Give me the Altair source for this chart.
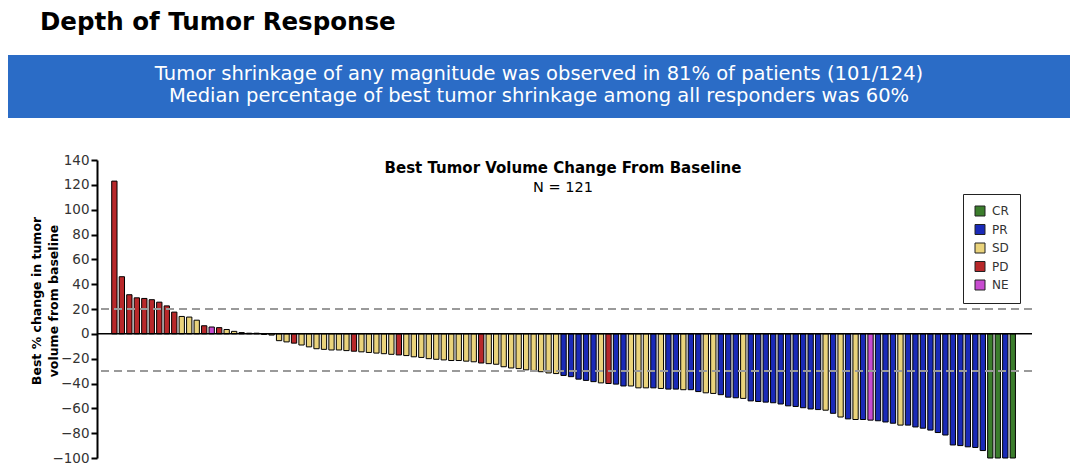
import altair as alt
import pandas as pd

# ---- data ----
values = [123, 46, 31.5, 29, 28.5, 27.5, 25.5, 22.5, 17.5, 14,
          13.5, 11, 6.5, 5.5, 5, 3.5, 2, 1, 0.5, 0.5,
          -0.5, -1, -5.5, -6.5, -7.5, -9, -10.5, -12, -12.5, -13,
          -13, -13.5, -14, -14.5, -15, -15.5, -16, -16.5, -17, -17.5,
          -18.5, -19, -20, -20.5, -21, -21.5, -21.5, -22, -22.5, -23.5,
          -24, -24.5, -26.5, -27.5, -28, -29, -29.5, -30.5, -31.5, -32,
          -33.5, -34.5, -36.5, -37.5, -38.5, -39.5, -40, -40.5, -42, -42,
          -43.5, -43.5, -43.5, -44, -44.5, -44.5, -45, -45, -46.5, -47.5,
          -48, -49, -51, -51.5, -52, -54, -54.5, -55, -55.5, -56.5,
          -58, -58.5, -59.5, -60.5, -61, -61.5, -64, -67, -68.5, -69,
          -69, -69.5, -70, -71, -72, -73.5, -73.5, -75, -76, -77.5,
          -79.5, -81.5, -89.5, -90, -91, -91.5, -94, -100, -100, -100,
          -100]
responses = ["PD"] * 9 + ["SD", "SD", "SD", "PD", "NE", "PD", "SD", "SD", "SD", "SD", "SD",
             "SD", "SD", "SD", "SD", "PD", "SD", "SD", "SD", "SD", "SD",
             "SD", "SD", "PD", "SD", "SD", "SD", "SD", "SD", "PD", "SD",
             "SD", "SD", "SD", "SD", "SD", "SD", "SD", "SD", "SD", "PD",
             "SD", "SD", "SD", "SD", "SD", "SD", "SD", "SD", "SD", "SD",
             "PR", "PR", "PR", "PR", "PR", "SD", "PD", "PR", "PR", "SD",
             "SD", "SD", "PR", "SD", "PR", "PR", "SD", "PR", "PR", "SD",
             "SD", "PR", "PR", "PR", "SD", "PR", "PR", "PR", "PR", "PR",
             "PR", "PR", "PR", "PR", "PR", "SD", "PR", "SD", "PR", "SD",
             "PR", "NE", "PR", "PR", "PR", "SD", "PR", "PR", "PR", "PR",
             "PR", "PR", "PR", "PR", "PR", "PR", "PR", "CR", "CR", "PR",
             "CR"]
categories = ["CR", "PR", "SD", "PD", "NE"]
cat_colors = ["#3b7d2c", "#1a2ab8", "#ead37b", "#b8282a", "#c84bd0"]
y_ticks = [-100, -80, -60, -40, -20, 0, 20, 40, 60, 80, 100, 120, 140]
thresholds = [20, -30]

page_title = ["Depth of Tumor Response"]
banner_line1 = ["Tumor shrinkage of any magnitude was observed in 81% of patients (101/124)"]
banner_line2 = ["Median percentage of best tumor shrinkage among all responders was 60%"]
chart_title = ["Best Tumor Volume Change From Baseline"]
chart_subtitle = ["N = 121"]
y_title = ["Best % change in tumor", "volume from baseline"]

df = pd.DataFrame({"i": list(range(1, len(values) + 1)), "v": values, "r": responses})

FONT = "DejaVu Sans"
yscale = alt.Scale(domain=[-100, 140], nice=False, zero=False)
xscale = alt.Scale(domain=[-0.652, 122.9], nice=False, zero=False)
yaxis = alt.Axis(values=y_ticks, title=None, grid=False, domainColor="black",
                 domainWidth=2, tickColor="black", tickWidth=2, tickSize=6,
                 labelFont=FONT, labelFontSize=13.5, labelColor="#333333",
                 labelPadding=2, labelOverlap=False)

bars = alt.Chart(df).mark_bar(size=5.3, stroke="black", strokeWidth=1).encode(
    x=alt.X("i:Q", scale=xscale, axis=None),
    y=alt.Y("v:Q", scale=yscale, axis=yaxis),
    color=alt.Color("r:N", scale=alt.Scale(domain=categories, range=cat_colors),
                    legend=alt.Legend(title=None, orient="none", legendX=866, legendY=34,
                                      strokeColor="#222222", padding=11, symbolType="square",
                                      symbolSize=100, symbolStrokeColor="#222222",
                                      symbolStrokeWidth=1, labelFont=FONT, labelFontSize=12,
                                      labelColor="#333333", labelOffset=6, rowPadding=4.5,
                                      fillColor="white")),
)

zero_line = alt.Chart(pd.DataFrame({"y": [0]})).mark_rule(color="black", strokeWidth=1.5).encode(
    y=alt.Y("y:Q", scale=yscale, axis=yaxis))

dashed = alt.Chart(pd.DataFrame({"y": thresholds})).mark_rule(
    color="#9a9a9a", strokeDash=[8, 5], strokeWidth=2).encode(
    y=alt.Y("y:Q", scale=yscale, axis=yaxis))

banner = alt.Chart(pd.DataFrame({"a": [0]})).mark_rect(color="#2b6cc6").encode(
    x=alt.value(-89), x2=alt.value(973), y=alt.value(-105), y2=alt.value(-42))

title_t = alt.Chart(pd.DataFrame({"t": page_title})).mark_text(
    font=FONT, fontSize=24.5, fontWeight="bold", color="black", align="left",
    baseline="alphabetic").encode(x=alt.value(-57), y=alt.value(-130), text="t:N")

banner_t1 = alt.Chart(pd.DataFrame({"t": banner_line1})).mark_text(
    font=FONT, fontSize=19.5, color="white", align="center", baseline="alphabetic").encode(
    x=alt.value(442), y=alt.value(-80.5), text="t:N")

banner_t2 = alt.Chart(pd.DataFrame({"t": banner_line2})).mark_text(
    font=FONT, fontSize=19.5, color="white", align="center", baseline="alphabetic").encode(
    x=alt.value(442), y=alt.value(-58.5), text="t:N")

ctitle_t = alt.Chart(pd.DataFrame({"t": chart_title})).mark_text(
    font=FONT, fontSize=15, fontWeight="bold", color="black", align="center",
    baseline="alphabetic").encode(x=alt.value(466), y=alt.value(12.5), text="t:N")

csub_t = alt.Chart(pd.DataFrame({"t": chart_subtitle})).mark_text(
    font=FONT, fontSize=14.5, color="black", align="center",
    baseline="alphabetic").encode(x=alt.value(466), y=alt.value(32), text="t:N")

ytitle_t = alt.Chart(pd.DataFrame({"a": [0]})).mark_text(
    text=y_title, font=FONT, fontSize=12.5, fontWeight="bold", color="black", angle=270,
    align="center", baseline="middle", lineHeight=17).encode(
    x=alt.value(-60), y=alt.value(141))

chart = alt.layer(banner, title_t, banner_t1, banner_t2, bars, zero_line, dashed,
                  ctitle_t, csub_t, ytitle_t).properties(
    width=935, height=298,
    padding={"left": 89, "top": 152, "right": 38, "bottom": 7},
    autosize=alt.AutoSizeParams(type="none"),
).configure_view(stroke=None)

chart.save("out.html", embed_options={"renderer": "svg", "actions": False})
